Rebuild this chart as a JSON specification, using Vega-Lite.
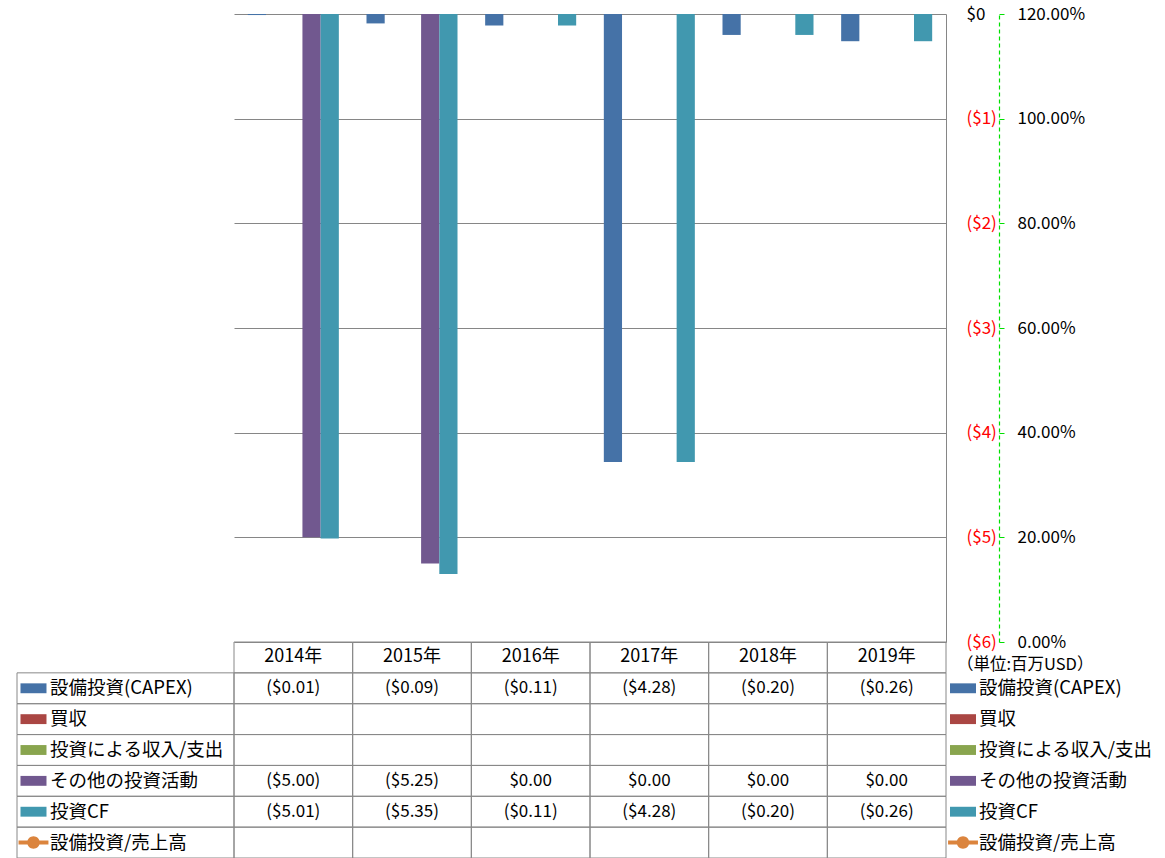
{
  "$schema": "https://vega.github.io/schema/vega-lite/v6.json",
  "padding": {"left": 16, "top": 5, "right": 0, "bottom": 0},
  "autosize": {"type": "pad"},
  "background": "white",
  "config": {
    "view": {"stroke": null},
    "font": "Noto Sans CJK JP",
    "concat": {"spacing": 0},
    "text": {"font": "Noto Sans CJK JP", "fontSize": 16, "color": "#000000"}
  },
  "datasets": {
    "table": [
      {"year": "2014年", "series": "設備投資(CAPEX)", "value": -0.01},
      {"year": "2015年", "series": "設備投資(CAPEX)", "value": -0.09},
      {"year": "2016年", "series": "設備投資(CAPEX)", "value": -0.11},
      {"year": "2017年", "series": "設備投資(CAPEX)", "value": -4.28},
      {"year": "2018年", "series": "設備投資(CAPEX)", "value": -0.20},
      {"year": "2019年", "series": "設備投資(CAPEX)", "value": -0.26},
      {"year": "2014年", "series": "買収", "value": null},
      {"year": "2015年", "series": "買収", "value": null},
      {"year": "2016年", "series": "買収", "value": null},
      {"year": "2017年", "series": "買収", "value": null},
      {"year": "2018年", "series": "買収", "value": null},
      {"year": "2019年", "series": "買収", "value": null},
      {"year": "2014年", "series": "投資による収入/支出", "value": null},
      {"year": "2015年", "series": "投資による収入/支出", "value": null},
      {"year": "2016年", "series": "投資による収入/支出", "value": null},
      {"year": "2017年", "series": "投資による収入/支出", "value": null},
      {"year": "2018年", "series": "投資による収入/支出", "value": null},
      {"year": "2019年", "series": "投資による収入/支出", "value": null},
      {"year": "2014年", "series": "その他の投資活動", "value": -5.00},
      {"year": "2015年", "series": "その他の投資活動", "value": -5.25},
      {"year": "2016年", "series": "その他の投資活動", "value": 0},
      {"year": "2017年", "series": "その他の投資活動", "value": 0},
      {"year": "2018年", "series": "その他の投資活動", "value": 0},
      {"year": "2019年", "series": "その他の投資活動", "value": 0},
      {"year": "2014年", "series": "投資CF", "value": -5.01},
      {"year": "2015年", "series": "投資CF", "value": -5.35},
      {"year": "2016年", "series": "投資CF", "value": -0.11},
      {"year": "2017年", "series": "投資CF", "value": -4.28},
      {"year": "2018年", "series": "投資CF", "value": -0.20},
      {"year": "2019年", "series": "投資CF", "value": -0.26},
      {"year": "2014年", "series": "設備投資/売上高", "value": null},
      {"year": "2015年", "series": "設備投資/売上高", "value": null},
      {"year": "2016年", "series": "設備投資/売上高", "value": null},
      {"year": "2017年", "series": "設備投資/売上高", "value": null},
      {"year": "2018年", "series": "設備投資/売上高", "value": null},
      {"year": "2019年", "series": "設備投資/売上高", "value": null}
    ]
  },
  "bounds": "flush",
  "spacing": 0,
  "columns": 3,
  "resolve": {"scale": {"x": "independent", "y": "independent"}},
  "concat": [
    {
      "width": 217,
      "height": 628,
      "data": {"values": [{"t": ""}]},
      "mark": {"type": "text"},
      "encoding": {"text": {"field": "t"}}
    },
    {
      "width": 712,
      "height": 628,
      "data": {"name": "table"},
      "resolve": {"scale": {"y": "independent"}},
      "layer": [
        {
          "transform": [{"filter": "datum.series !== '設備投資/売上高' && datum.value != null"}],
          "mark": {"type": "bar"},
          "encoding": {
            "x": {"field": "year", "type": "nominal", "axis": null, "scale": {"paddingInner": 0.233, "paddingOuter": 0.1165}},
            "xOffset": {"field": "series", "type": "nominal", "scale": {"domain": ["設備投資(CAPEX)", "買収", "投資による収入/支出", "その他の投資活動", "投資CF"], "paddingInner": 0, "paddingOuter": 0}},
            "y": {
              "field": "value", "type": "quantitative",
              "scale": {"domain": [-6, 0], "nice": false, "zero": false},
              "axis": {
                "orient": "right", "values": [-6, -5, -4, -3, -2, -1, 0], "format": "($.0f", "title": null,
                "grid": true, "gridColor": "#868686", "gridOpacity": 1, "domainColor": "#868686", "ticks": false,
                "labelPadding": 20, "labelFontSize": 17, "labelFont": "Noto Sans CJK JP",
                "labelColor": {"condition": {"test": "datum.value < 0", "value": "#ff0000"}, "value": "#000000"}
              }
            },
            "color": {
              "field": "series", "type": "nominal", "legend": null,
              "scale": {"domain": ["設備投資(CAPEX)", "買収", "投資による収入/支出", "その他の投資活動", "投資CF", "設備投資/売上高"],
                        "range": ["#4572A7", "#AA4643", "#89A54E", "#71588F", "#4198AF", "#DB843D"]}
            }
          }
        },
        {
          "transform": [{"filter": "datum.series === '設備投資/売上高'"}],
          "mark": {"type": "line", "color": "#DB843D", "point": true},
          "encoding": {
            "x": {"field": "year", "type": "nominal", "axis": null},
            "y": {
              "field": "value", "type": "quantitative",
              "scale": {"domain": [0, 1.2], "nice": false},
              "axis": {
                "orient": "right", "offset": 53, "values": [0, 0.2, 0.4, 0.6, 0.8, 1.0, 1.2], "format": ".2%", "title": null,
                "grid": false, "domainColor": "#00e000", "domainDash": [4, 3], "domainWidth": 1.2, "tickColor": "#00e000", "tickSize": 5,
                "labelPadding": 13, "labelFontSize": 17, "labelFont": "Noto Sans CJK JP", "labelColor": "#000000"
              }
            }
          }
        }
      ]
    },
    {
      "width": 218,
      "height": 628,
      "data": {"values": [{"t": ""}]},
      "mark": {"type": "text"},
      "encoding": {"text": {"field": "t"}}
    },
    {
      "width": 217,
      "height": 216,
      "data": {"name": "table"},
      "transform": [{"filter": "datum.year === '2014年'"}],
      "layer": [
        {
          "mark": {"type": "rect", "fill": "transparent", "stroke": "#888888", "strokeWidth": 1},
          "encoding": {
            "y": {"field": "series", "type": "nominal", "axis": null, "scale": {"domain": ["hdr", "設備投資(CAPEX)", "買収", "投資による収入/支出", "その他の投資活動", "投資CF", "設備投資/売上高"], "paddingInner": 0, "paddingOuter": 0}}
          }
        },
        {
          "mark": {"type": "point", "filled": true, "size": 676, "opacity": 1},
          "encoding": {
            "x": {"datum": 0.076, "type": "quantitative", "scale": {"domain": [0, 1], "nice": false}, "axis": null},
            "y": {"field": "series", "type": "nominal", "axis": null},
            "shape": {"field": "series", "type": "nominal", "legend": null,
              "scale": {"domain": ["設備投資(CAPEX)", "買収", "投資による収入/支出", "その他の投資活動", "投資CF", "設備投資/売上高"],
                "range": ["M-1,-0.38H1V0.38H-1Z", "M-1,-0.38H1V0.38H-1Z", "M-1,-0.38H1V0.38H-1Z", "M-1,-0.38H1V0.38H-1Z", "M-1,-0.38H1V0.38H-1Z",
                          "M-1.15,-0.15H1.15V0.15H-1.15Z M0.48,0A0.48,0.48,0,1,1,-0.48,0A0.48,0.48,0,1,1,0.48,0Z"]}},
            "color": {"field": "series", "type": "nominal", "legend": null}
          }
        },
        {
          "mark": {"type": "text", "align": "left", "fontSize": 18.5},
          "encoding": {
            "x": {"datum": 0.152, "type": "quantitative"},
            "y": {"field": "series", "type": "nominal", "axis": null},
            "text": {"field": "series"}
          }
        }
      ]
    },
    {
      "width": 712,
      "height": 216,
      "data": {"name": "table"},
      "layer": [
        {
          "mark": {"type": "rect", "fill": "transparent", "stroke": "#888888", "strokeWidth": 1},
          "encoding": {
            "x": {"field": "year", "type": "nominal", "axis": null, "scale": {"paddingInner": 0, "paddingOuter": 0}},
            "y": {"field": "series", "type": "nominal", "axis": null, "scale": {"domain": ["hdr", "設備投資(CAPEX)", "買収", "投資による収入/支出", "その他の投資活動", "投資CF", "設備投資/売上高"], "paddingInner": 0, "paddingOuter": 0}}
          }
        },
        {
          "transform": [{"filter": "datum.value != null"}],
          "mark": {"type": "text", "fontSize": 17},
          "encoding": {
            "x": {"field": "year", "type": "nominal", "axis": null},
            "y": {"field": "series", "type": "nominal", "axis": null},
            "text": {"field": "value", "type": "quantitative", "format": "($.2f"}
          }
        },
        {
          "transform": [{"filter": "datum.series === '設備投資(CAPEX)'"}],
          "mark": {"type": "rect", "fill": "transparent", "stroke": "#888888", "strokeWidth": 1},
          "encoding": {
            "x": {"field": "year", "type": "nominal", "axis": null},
            "y": {"datum": "hdr", "type": "nominal", "axis": null}
          }
        },
        {
          "transform": [{"filter": "datum.series === '設備投資(CAPEX)'"}],
          "mark": {"type": "text", "fontSize": 18},
          "encoding": {
            "x": {"field": "year", "type": "nominal", "axis": null},
            "y": {"datum": "hdr", "type": "nominal", "axis": null},
            "text": {"field": "year"}
          }
        }
      ]
    },
    {
      "width": 218,
      "height": 216,
      "data": {"name": "table"},
      "transform": [{"filter": "datum.year === '2014年'"}],
      "layer": [
        {
          "mark": {"type": "point", "filled": true, "size": 676, "opacity": 1},
          "encoding": {
            "x": {"datum": 0.078, "type": "quantitative", "scale": {"domain": [0, 1], "nice": false}, "axis": null},
            "y": {"field": "series", "type": "nominal", "axis": null, "scale": {"domain": ["hdr", "設備投資(CAPEX)", "買収", "投資による収入/支出", "その他の投資活動", "投資CF", "設備投資/売上高"], "paddingInner": 0, "paddingOuter": 0}},
            "shape": {"field": "series", "type": "nominal", "legend": null},
            "color": {"field": "series", "type": "nominal", "legend": null}
          }
        },
        {
          "mark": {"type": "text", "align": "left", "fontSize": 18.5},
          "encoding": {
            "x": {"datum": 0.151, "type": "quantitative"},
            "y": {"field": "series", "type": "nominal", "axis": null},
            "text": {"field": "series"}
          }
        },
        {
          "transform": [{"filter": "datum.series === '設備投資(CAPEX)'"}],
          "mark": {"type": "text", "align": "left", "fontSize": 16.5, "dy": 8},
          "encoding": {
            "x": {"datum": 0.05, "type": "quantitative"},
            "y": {"datum": "hdr", "type": "nominal", "axis": null},
            "text": {"value": "（単位:百万USD）"}
          }
        }
      ]
    }
  ]
}
